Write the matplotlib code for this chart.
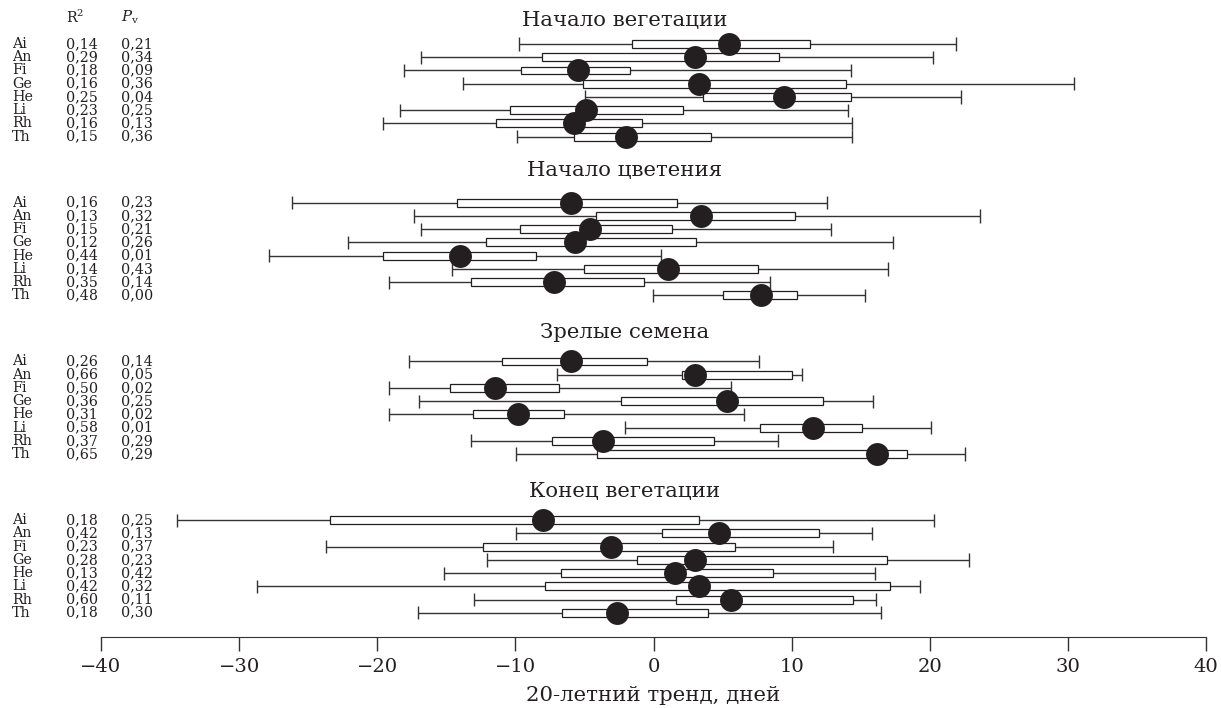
import matplotlib
matplotlib.use("Agg")
import matplotlib.pyplot as plt
import matplotlib.transforms as mtransforms

plt.rcParams['font.family'] = ['DejaVu Serif']
plt.rcParams['mathtext.fontset'] = 'dejavuserif'

species = ['Ai', 'An', 'Fi', 'Ge', 'He', 'Li', 'Rh', 'Th']
phases = ['Начало вегетации', 'Начало цветения', 'Зрелые семена', 'Конец вегетации']

r2 = [
    [0.14, 0.29, 0.18, 0.16, 0.25, 0.23, 0.16, 0.15],
    [0.16, 0.13, 0.15, 0.12, 0.44, 0.14, 0.35, 0.48],
    [0.26, 0.66, 0.50, 0.36, 0.31, 0.58, 0.37, 0.65],
    [0.18, 0.42, 0.23, 0.28, 0.13, 0.42, 0.60, 0.18],
]
pv = [
    [0.21, 0.34, 0.09, 0.36, 0.04, 0.25, 0.13, 0.36],
    [0.23, 0.32, 0.21, 0.26, 0.01, 0.43, 0.14, 0.00],
    [0.14, 0.05, 0.02, 0.25, 0.02, 0.01, 0.29, 0.29],
    [0.25, 0.13, 0.37, 0.23, 0.42, 0.32, 0.11, 0.30],
]

# whisker low, box low, centre, box high, whisker high
w_lo = [
    [-9.74, -16.8, -18.04, -13.82, -4.96, -18.36, -19.57, -9.86],
    [-26.15, -17.32, -16.86, -22.15, -27.82, -14.57, -19.15, -0.01],
    [-17.73, -6.99, -19.15, -16.98, -19.15, -2.06, -13.21, -9.98],
    [-34.53, -9.98, -23.71, -12.03, -15.17, -28.71, -13.0, -17.03],
]
q_lo = [
    [-1.53, -8.05, -9.59, -5.08, 3.61, -10.41, -11.40, -5.78],
    [-14.25, -4.19, -9.69, -12.15, -19.57, -5.03, -13.24, 5.05],
    [-10.99, 2.04, -14.76, -2.33, -13.09, 7.71, -7.33, -4.11],
    [-23.42, 0.64, -12.32, -1.19, -6.72, -7.86, 1.65, -6.60],
]
mid = [
    [5.49, 2.98, -5.49, 3.32, 9.45, -4.91, -5.76, -1.99],
    [-6.0, 3.42, -4.62, -5.68, -14.01, 1.05, -7.23, 7.78],
    [-5.97, 3.0, -11.50, 5.30, -9.83, 11.53, -3.68, 16.16],
    [-7.98, 4.76, -3.10, 3.0, 1.56, 3.27, 5.61, -2.64],
]
q_hi = [
    [11.33, 9.11, -1.70, 13.92, 14.28, 2.16, -0.81, 4.19],
    [1.70, 10.22, 1.36, 3.10, -8.48, 7.59, -0.67, 10.39],
    [-0.49, 10.0, -6.82, 12.30, -6.50, 15.12, 4.36, 18.33],
    [3.27, 12.0, 5.88, 16.93, 8.63, 17.15, 14.47, 3.92],
]
w_hi = [
    [21.9, 20.26, 14.30, 30.47, 22.24, 14.11, 14.37, 14.40],
    [12.59, 23.64, 12.85, 17.32, 0.57, 16.98, 8.46, 15.31],
    [7.62, 10.78, 5.63, 15.92, 6.53, 20.09, 8.99, 22.58],
    [20.29, 15.84, 12.98, 22.85, 16.02, 19.30, 16.13, 16.45],
]

xticks = [-40, -30, -20, -10, 0, 10, 20, 30, 40]
xlabel = '20-летний тренд, дней'

W, H = 1221, 708
fig = plt.figure(figsize=(W / 100, H / 100), dpi=100)
ax = fig.add_axes([101 / W, 1 - 637 / H, 1105 / W, 637 / H])
ax.set_xlim(-40, 40)
ax.set_ylim(44.83, -3.33)

group_step = 12
title_offsets = [-1.8, -2.45, -2.2, -2.2]
dark = '#231f20'
line_c = '#333333'
row_fs = 10.3

trans = mtransforms.blended_transform_factory(fig.transFigure, ax.transData)

for g in range(4):
    ys = [g * group_step + i for i in range(len(species))]
    ax.hlines(ys, w_lo[g], w_hi[g], color=line_c, lw=1.0, zorder=1)
    ax.vlines(w_lo[g], [y - 0.5 for y in ys], [y + 0.5 for y in ys], color=line_c, lw=1.0, zorder=1)
    ax.vlines(w_hi[g], [y - 0.5 for y in ys], [y + 0.5 for y in ys], color=line_c, lw=1.0, zorder=1)
    widths = [b - a for a, b in zip(q_lo[g], q_hi[g])]
    ax.barh(ys, widths, left=q_lo[g], height=0.6, color='white', edgecolor=dark, lw=0.9, zorder=2)
    ax.plot(mid[g], ys, 'o', color=dark, ms=16.5, zorder=3, markeredgewidth=0)
    ax.text(-2.1, g * group_step + title_offsets[g], phases[g], ha='center', va='center', fontsize=15.3, color=dark)
    for i, y in enumerate(ys):
        ax.text(12 / W, y, species[i], transform=trans, ha='left', va='center', fontsize=row_fs, color=dark)
        ax.text(66 / W, y, f'{r2[g][i]:.2f}'.replace('.', ','), transform=trans, ha='left', va='center', fontsize=row_fs, color=dark)
        ax.text(121 / W, y, f'{pv[g][i]:.2f}'.replace('.', ','), transform=trans, ha='left', va='center', fontsize=row_fs, color=dark)

ax.text(66 / W, -2.0, r'R$^2$', transform=trans, ha='left', va='center', fontsize=row_fs, color=dark)
ax.text(121 / W, -2.0, r'$P_\mathrm{v}$', transform=trans, ha='left', va='center', fontsize=row_fs + 0.5, color=dark)

for s in ['top', 'left', 'right']:
    ax.spines[s].set_visible(False)
ax.spines['bottom'].set_color(line_c)
ax.set_yticks([])
ax.set_xticks(xticks)
ax.set_xticklabels([str(t).replace('-', '\u2212') for t in xticks], fontsize=14, color=dark)
ax.tick_params(axis='x', direction='out', length=10, width=1, color=line_c, pad=5)
ax.set_xlabel(xlabel, fontsize=15.3, color=dark, labelpad=7)

fig.savefig('out.png', dpi=100)
